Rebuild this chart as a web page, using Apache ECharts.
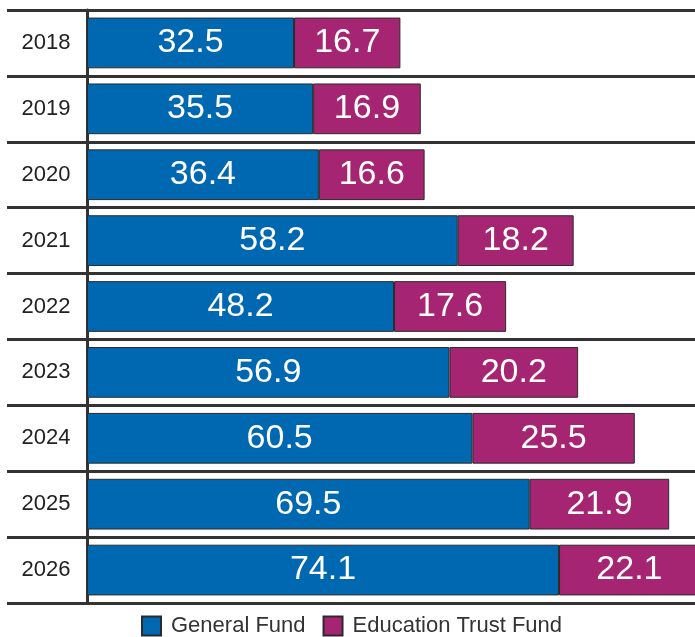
<!DOCTYPE html>
<html>
<head>
<meta charset="utf-8">
<script src="https://cdn.jsdelivr.net/npm/echarts@6/dist/echarts.min.js"></script>
<style>html,body{margin:0;padding:0;background:#fff}#c{width:695px;height:637px}</style>
</head>
<body>
<div id="c"></div>
<script>
const years = ['2018','2019','2020','2021','2022','2023','2024','2025','2026'];
const generalFund = [32.5, 35.5, 36.4, 58.2, 48.2, 56.9, 60.5, 69.5, 74.1];
const educationTrustFund = [16.7, 16.9, 16.6, 18.2, 17.6, 20.2, 25.5, 21.9, 22.1];

const chart = echarts.init(document.getElementById('c'), null, {renderer: 'canvas'});
const lbl = {
  show: true, position: 'inside', color: '#fff', fontSize: 34,
  fontFamily: 'Liberation Sans', formatter: p => p.value.toFixed(1)
};
chart.setOption({
  animation: false,
  grid: {left: 87, top: 10, width: 637, bottom: 34, outerBoundsMode: 'none', containLabel: false},
  xAxis: {type: 'value', min: 0, max: 100, show: false},
  yAxis: {
    type: 'category', data: years, inverse: true,
    axisLine: {show: true, lineStyle: {color: '#333', width: 3}},
    axisTick: {show: true, interval: 0, length: 80, lineStyle: {color: '#333', width: 3}},
    splitLine: {show: true, interval: 0, lineStyle: {color: '#333', width: 3}},
    axisLabel: {margin: 41, align: 'center', color: '#222', fontSize: 22, fontFamily: 'Liberation Sans'}
  },
  legend: {
    bottom: -5, left: 136, itemWidth: 19, itemHeight: 19, itemGap: 17,
    icon: 'rect',
    textStyle: {color: '#333', fontSize: 22, fontFamily: 'Liberation Sans', padding: [0,0,0,5]},
    data: ['General Fund', 'Education Trust Fund']
  },
  series: [
    {name: 'General Fund', type: 'bar', stack: 'a', data: generalFund, barCategoryGap: '23%',
     itemStyle: {color: '#0067b1', borderColor: '#2b2b2b', borderWidth: 1}, label: lbl},
    {name: 'Education Trust Fund', type: 'bar', stack: 'a', data: educationTrustFund,
     itemStyle: {color: '#a52572', borderColor: '#2b2b2b', borderWidth: 1}, label: lbl}
  ]
});
</script>
</body>
</html>
